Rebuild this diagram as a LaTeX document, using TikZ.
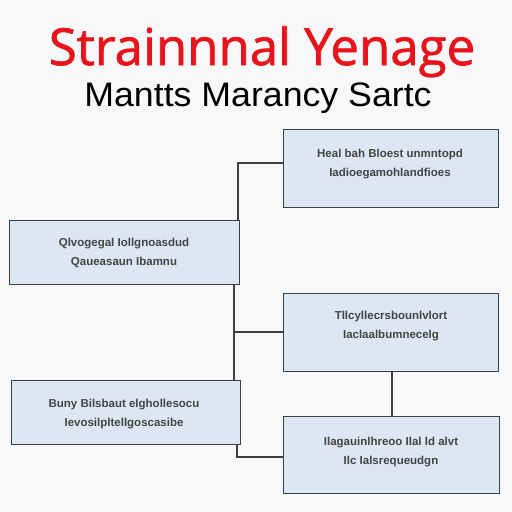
\documentclass[tikz,border=0pt]{standalone}
\usepackage{fontspec}
\setmainfont{Liberation Sans}
\newfontfamily\titlefont[FakeBold=1.4]{Open Sans}
\definecolor{bg}{HTML}{F7F8F9}
\definecolor{boxfill}{HTML}{DCE7F3}
\definecolor{boxline}{HTML}{3F3F3F}
\definecolor{titlered}{HTML}{E8141C}
\definecolor{boxtext}{HTML}{444444}
\tikzset{
  infobox/.style={draw=boxline, line width=1.4pt, fill=boxfill, inner sep=0pt, anchor=north west},
  boxlabel/.style={text=boxtext, font=\fontsize{11.5}{19}\selectfont\bfseries, align=center, inner sep=0pt},
  link/.style={draw=boxline, line width=1.6pt}
}
\begin{document}
\begin{tikzpicture}[x=1pt,y=-1pt]
\fill[bg] (0,0) rectangle (512,512);
\useasboundingbox (0,0) rectangle (512,512);
% title
\node[text=titlered, font=\titlefont\fontsize{51}{56}\selectfont, inner sep=0pt, anchor=base] (title) at (262,65) {\scalebox{1.0}[1]{Strainnnal Yenage}};
\node[text=black, font=\fontsize{34}{40}\selectfont, inner sep=0pt, anchor=base] (subtitle) at (258,106) {\scalebox{1.05}[1]{Mantts Marancy Sartc}};
% boxes
\node[infobox, minimum width=215pt, minimum height=78pt] (A) at (283,129) {};
\node[infobox, minimum width=230pt, minimum height=64pt] (B) at (9,220) {};
\node[infobox, minimum width=215pt, minimum height=78pt] (C) at (283,293) {};
\node[infobox, minimum width=229pt, minimum height=64pt] (D) at (11,380) {};
\node[infobox, minimum width=216pt, minimum height=77pt] (E) at (283,416) {};
% labels
\node[boxlabel] (tA) at (390,164) {Heal bah Bloest unmntopd\\Iadioegamohlandfioes};
\node[boxlabel] (tB) at (124,253) {Qlvogegal Iollgnoasdud\\Qaueasaun Ibamnu};
\node[boxlabel] (tC) at (391,326) {Tllcyllecrsbounlvlort\\Iaclaalbumnecelg};
\node[boxlabel] (tD) at (124,414) {Buny Bilsbaut elghollesocu\\Ievosilpltellgoscasibe};
\node[boxlabel] (tE) at (391,452) {Ilagauinlhreoo Ilal ld alvt\\Ilc Ialsrequeudgn};
% connectors
\coordinate (j1) at (238,163);
\coordinate (j2) at (234,332);
\coordinate (j3) at (237,457);
\draw[link] (B.north east -| j1) -- (j1) -- (j1 -| A.west);
\draw[link] (B.south east -| j2) -- (j2) -- (j2 -| C.west);
\draw[link] (j2) -- (j2 |- D.north);
\draw[link] (D.south east -| j3) -- (j3) -- (j3 -| E.west);
\draw[link] (C.south -| 392,0) -- (E.north -| 392,0);
\end{tikzpicture}
\end{document}
